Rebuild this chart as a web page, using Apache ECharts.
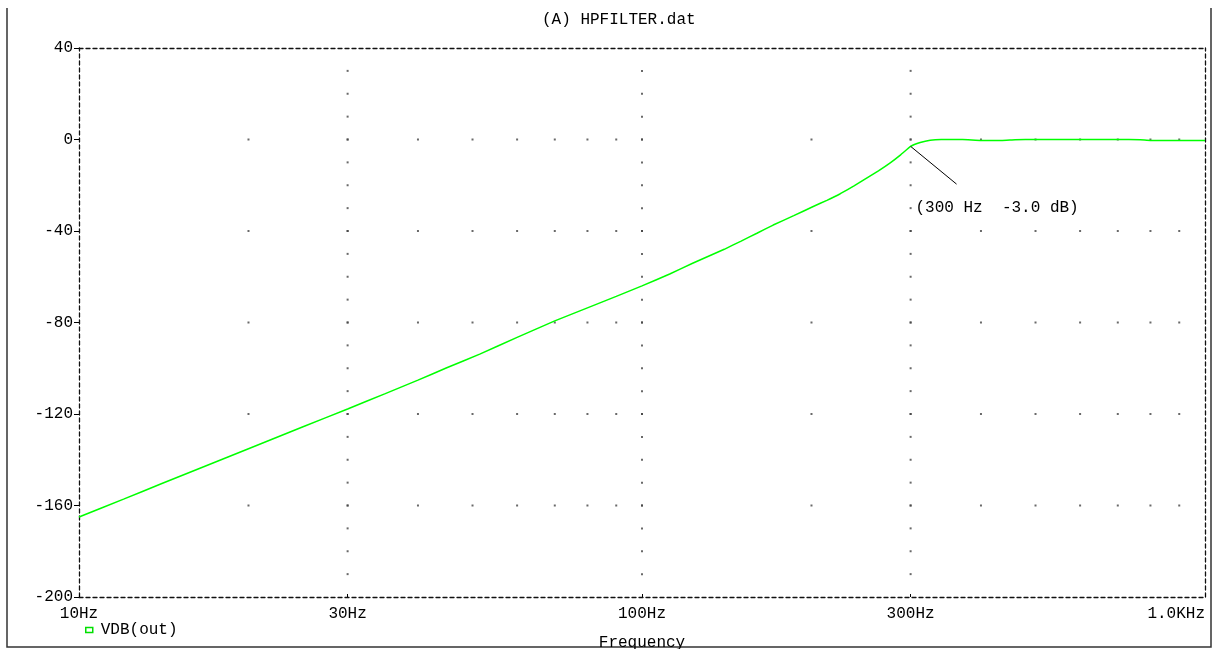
<!DOCTYPE html>
<html>
<head>
<meta charset="utf-8">
<script src="https://cdn.jsdelivr.net/npm/echarts@6/dist/echarts.min.js"></script>
<style>
html,body{margin:0;padding:0;background:#fff;}
#chart{width:1216px;height:649px;}
</style>
</head>
<body>
<div id="chart"></div>
<script>
// ---- data ----
const freqHz = [10, 12, 14, 16.4, 20, 25, 30, 35, 40, 45, 51.5, 60, 70, 80, 90, 100, 112, 123, 140, 150, 160, 171, 186, 201, 213, 225, 238, 251, 263, 276, 288, 300, 312, 325, 340, 371, 400, 435, 460, 500, 600, 700, 767, 800, 1000];
const vdbOut = [-165.0, -157.2, -150.5, -143.7, -135.2, -125.6, -117.8, -111.1, -105.2, -99.8, -93.8, -86.5, -79.3, -73.6, -68.6, -64.0, -58.8, -54.1, -48.0, -44.4, -41.0, -37.4, -33.3, -29.4, -26.6, -23.7, -20.3, -16.8, -13.7, -10.2, -6.7, -3.0, -1.3, -0.3, 0.0, 0.0, -0.4, -0.4, -0.1, 0.0, 0.0, 0.0, -0.1, -0.4, -0.4];
const xTickVals = [10, 30, 100, 300, 1000];
const xTickLabels = ['10Hz', '30Hz', '100Hz', '300Hz', '1.0KHz'];
const gridRowFreqs = [20, 30, 40, 50, 60, 70, 80, 90, 100, 200, 300, 400, 500, 600, 700, 800, 900];
const gridRowDb = [0, -40, -80, -120, -160];
const gridColFreqs = [30, 100, 300];
const gridColDb = [30, 20, 10, 0, -10, -20, -30, -40, -50, -60, -70, -80, -90, -100, -110, -120, -130, -140, -150, -160, -170, -180, -190];
const annotFreq = 300;
const annotDb = -3.0;
const annotLineEnd = [362, -19.5];
const annotTextAt = [306, -30];

// ---- build ----
const curve = freqHz.map((f, i) => [f, vdbOut[i]]);
const dots = [];
gridRowDb.forEach(d => gridRowFreqs.forEach(f => dots.push([f, d])));
gridColFreqs.forEach(f => gridColDb.forEach(d => dots.push([f, d])));

const FONT = 'Liberation Mono';
const dashAxis = { show: true, lineStyle: { color: '#111', width: 1.3, type: [4, 3] } };

const chart = echarts.init(document.getElementById('chart'), null, { renderer: 'canvas' });
chart.setOption({
  animation: false,
  backgroundColor: '#fff',
  title: {
    text: '(A) HPFILTER.dat',
    left: 537, top: 7,
    textStyle: { fontFamily: FONT, fontSize: 16, fontWeight: 'normal', color: '#000' }
  },
  legend: {
    data: ['VDB(out)'],
    left: 80, top: 617,
    icon: 'rect', itemWidth: 7, itemHeight: 5, itemGap: 8,
    itemStyle: { color: 'transparent', borderColor: '#00e000', borderWidth: 1.5 },
    textStyle: { fontFamily: FONT, fontSize: 16, color: '#000', padding: [0, 0, 0, 3] }
  },
  grid: { left: 79, right: 11, top: 48, bottom: 52, containLabel: false, outerBoundsMode: 'none' },
  xAxis: [{
    type: 'log', logBase: 10, min: 10, max: 1000,
    position: 'bottom',
    name: 'Frequency', nameLocation: 'middle', nameGap: 38,
    nameTextStyle: { fontFamily: FONT, fontSize: 16, color: '#000' },
    axisLine: Object.assign({ onZero: false }, dashAxis),
    axisTick: { show: true, inside: true, length: 3, customValues: xTickVals, lineStyle: { color: '#000' } },
    axisLabel: {
      customValues: xTickVals,
      margin: 9,
      fontFamily: FONT, fontSize: 16, color: '#000',
      alignMaxLabel: 'right',
      formatter: v => { const i = xTickVals.findIndex(t => Math.abs(t - v) < 1e-6 * t); return i >= 0 ? xTickLabels[i] : ''; }
    },
    splitLine: { show: false }, minorTick: { show: false }
  }, {
    type: 'value', min: 0, max: 1, position: 'top',
    axisLine: Object.assign({ onZero: false }, dashAxis),
    axisTick: { show: false }, axisLabel: { show: false }, splitLine: { show: false }
  }],
  yAxis: [{
    type: 'value', min: -200, max: 40, interval: 40,
    position: 'left',
    axisLine: Object.assign({ onZero: false }, dashAxis),
    axisTick: { show: true, length: 5, lineStyle: { color: '#000' } },
    axisLabel: { margin: 6, fontFamily: FONT, fontSize: 16, color: '#000' },
    splitLine: { show: false }
  }, {
    type: 'value', min: 0, max: 1, position: 'right',
    axisLine: Object.assign({ onZero: false }, dashAxis),
    axisTick: { show: false }, axisLabel: { show: false }, splitLine: { show: false }
  }],
  series: [{
    name: 'gridDots', type: 'scatter', silent: true,
    xAxisIndex: 0, yAxisIndex: 0,
    symbol: 'rect', symbolSize: 2,
    itemStyle: { color: '#444' },
    data: dots, z: 1
  }, {
    name: 'VDB(out)', type: 'line',
    xAxisIndex: 0, yAxisIndex: 0,
    data: curve, showSymbol: false, smooth: 0.1,
    lineStyle: { color: '#00ff00', width: 1.5 },
    itemStyle: { color: '#00ff00' },
    z: 3,
    markLine: {
      silent: true, symbol: ['none', 'none'], animation: false,
      lineStyle: { color: '#000', width: 1, type: 'solid' },
      label: { show: false },
      data: [[{ coord: [annotFreq, annotDb] }, { coord: annotLineEnd }]]
    },
    markPoint: {
      silent: true, symbol: 'circle', symbolSize: 0,
      data: [{ coord: annotTextAt, value: 0 }],
      label: {
        show: true, position: 'right', distance: 0,
        fontFamily: FONT, fontSize: 16, color: '#000',
        formatter: () => '(' + annotFreq + ' Hz  ' + annotDb.toFixed(1) + ' dB)'
      }
    }
  }],
  graphic: [{
    type: 'polyline', silent: true,
    shape: { points: [[7, 8], [7, 647], [1211, 647], [1211, 8]] },
    style: { stroke: '#333', lineWidth: 1.5, fill: null }
  }]
});
</script>
</body>
</html>
